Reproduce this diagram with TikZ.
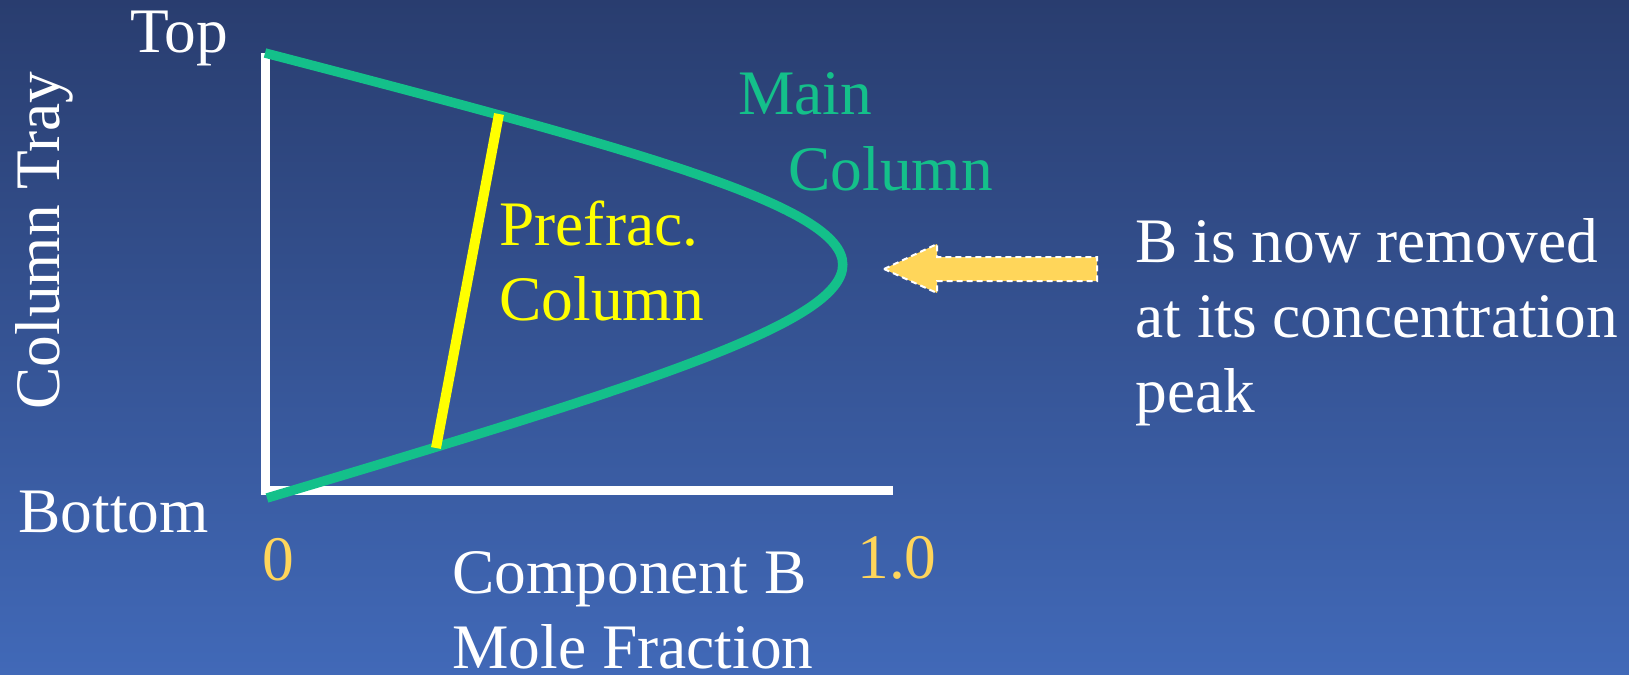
\documentclass[tikz,border=0pt]{standalone}
\usepackage{fontspec}
\setmainfont{Liberation Serif}
\definecolor{bgtop}{RGB}{41,61,111}
\definecolor{bgbot}{RGB}{65,105,184}
\definecolor{maingreen}{RGB}{20,192,138}
\definecolor{prefyellow}{RGB}{255,255,0}
\definecolor{tickorange}{RGB}{255,213,90}
\definecolor{arrowfill}{RGB}{255,214,90}
\begin{document}
\begin{tikzpicture}[
  x=0.5pt, y=-0.5pt,
  lbl/.style={font=\fontsize{31.7pt}{37.5pt}\selectfont, inner sep=0pt, anchor=base west, text=white},
  axis/.style={draw=white, line width=4.5pt, line join=miter},
  curve/.style={line width=4.75pt},
]
% --- background ---
\shade[top color=bgtop, bottom color=bgbot] (0,0) rectangle (1629,675);
\useasboundingbox (0,0) rectangle (1629,675);

% --- axes ---
\coordinate (ytop) at (265,53);
\coordinate (orig) at (265,490);
\coordinate (xend) at (893,490);
\draw[axis] (ytop) -- (orig) -- (xend);

% --- main column profile ---
\coordinate (mtop) at (265,53);
\coordinate (mbot) at (267,498);
\draw[curve, draw=maingreen] (mtop) .. controls (1035,253) and (1035,269) .. (mbot);

% --- prefractionator profile ---
\coordinate (ptop) at (499,114);
\coordinate (pbot) at (436,448);
\draw[curve, draw=prefyellow, line width=5pt] (ptop) -- (pbot);

% --- side draw arrow ---
\draw[fill=arrowfill, draw=white, line width=1pt, dash pattern=on 3pt off 2pt]
  (884,269) -- (937,244) -- (937,257) -- (1097,257) -- (1097,281)
  -- (937,281) -- (937,293) -- cycle;

% --- labels (multi-line ones sit on their last baseline) ---
\node[lbl] (toplbl) at (130,52) {Top};
\node[lbl] (botlbl) at (18,532) {Bottom};
\node[lbl, rotate=90] (ylbl) at (59,410) {Column Tray};
\node[lbl, text=tickorange] (zero) at (262,580) {0};
\node[lbl, text=tickorange] (one) at (857,578) {1.0};
\node[lbl, align=left] (xlbl) at (452,668) {Component B\\Mole Fraction};
\node[lbl, text=maingreen] (mainlbl) at (738,114) {Main};
\node[lbl, text=maingreen] (collbl) at (788,190) {Column};
\node[lbl, text=prefyellow, align=left] (preflbl) at (499,320) {Prefrac.\\Column};
\node[lbl, align=left] (note) at (1135,412) {B is now removed\\at its concentration\\peak};
\end{tikzpicture}
\end{document}
